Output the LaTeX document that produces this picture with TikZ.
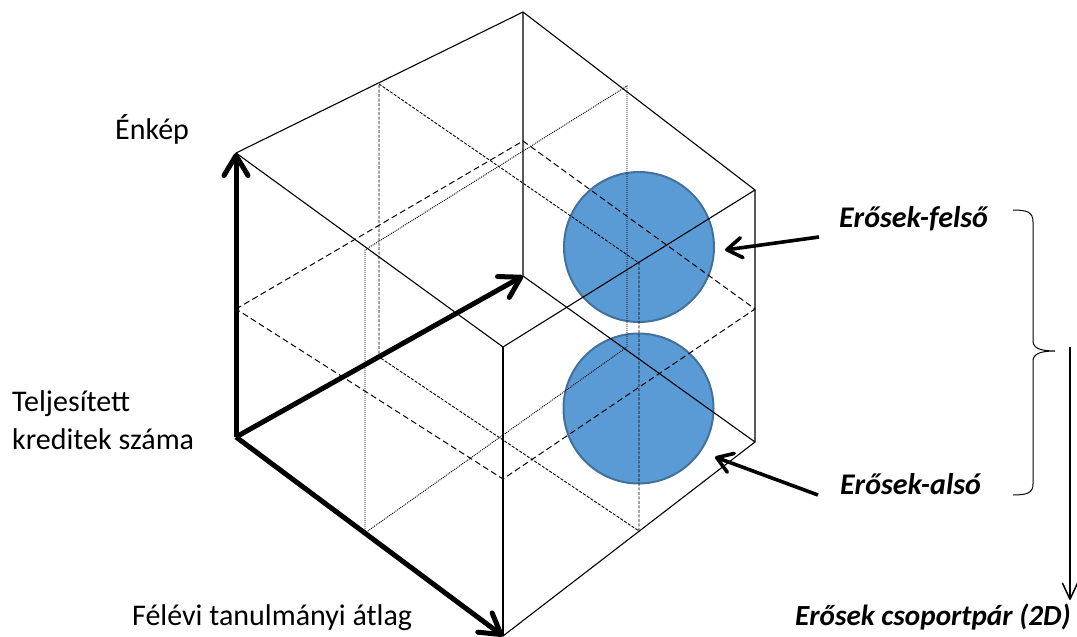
\documentclass[tikz,border=0pt]{standalone}
\usepackage{fontspec}
\setmainfont{Carlito}
\usetikzlibrary{arrows.meta}
\definecolor{ballfill}{RGB}{91,155,213}
\definecolor{balledge}{RGB}{65,113,156}
\begin{document}
\begin{tikzpicture}[x=1pt,y=-1pt,
  edge/.style={line width=1.1pt, line cap=round, line join=round},
  midz/.style={line width=1pt, dash pattern=on 6pt off 3.5pt},
  midy/.style={line width=0.9pt, dash pattern=on 3pt off 1.5pt},
  midx/.style={line width=0.9pt, dash pattern=on 1pt off 1pt},
  axis/.style={line width=5pt, -{Straight Barb[length=20pt,width=24pt,round]}},
  callout/.style={line width=3.6pt, -{Straight Barb[length=15pt,width=20pt,round]}},
  longarr/.style={line width=1.5pt, -{Straight Barb[length=16pt,width=15pt,round]}},
  brace/.style={line width=1pt},
  ball/.style={circle, minimum size=150pt, inner sep=0pt, fill=ballfill, draw=balledge, line width=2pt},
  lbl/.style={font=\fontsize{30}{38}\selectfont, inner sep=0pt},
  blbl/.style={inner sep=0pt, font=\fontsize{30}{38}\selectfont\bfseries\itshape}
]
\useasboundingbox (0,0) rectangle (1077,637);
% cube vertices
\coordinate (O)  at (236,437);
\coordinate (UL) at (236,153);
\coordinate (T)  at (523,12);
\coordinate (UR) at (755,190);
\coordinate (LR) at (755,442);
\coordinate (B)  at (503,636);
\coordinate (C)  at (503,347);
\coordinate (K)  at (523,276);
% mid plane z
\coordinate (P1) at (236,309);
\coordinate (P2) at (523,141);
\coordinate (P3) at (755,309);
\coordinate (P4) at (503,479);
% mid plane y
\coordinate (Q1) at (379,84);
\coordinate (Q2) at (639,263);
\coordinate (Q3) at (639,531);
\coordinate (Q4) at (379,357);
% mid plane x
\coordinate (R1) at (365,533);
\coordinate (R2) at (365,250);
\coordinate (R3) at (627,86);
\coordinate (R4) at (627,347);

% balls
\node[ball] (top) at (639,247) {};
\node[ball] (bot) at (638.5,408.5) {};

% mid planes
\draw[midz] (P1) -- (P2) -- (P3) -- (P4) -- cycle;
\draw[midy] (Q1) -- (Q2) -- (Q3) -- (Q4) -- cycle;
\draw[midx] (R1) -- (R2) -- (R3) -- (R4) -- cycle;

% cube edges
\draw[edge] (UL) -- (T) -- (UR) -- (LR) -- (B);
\draw[edge] (UL) -- (C) -- (UR);
\draw[edge] (C) -- (B);
\draw[edge] (T) -- (K) -- (LR);

% axes
\draw[axis] (O) -- (UL);
\draw[axis] (O) -- (K);
\draw[axis] (O) -- (B);

% labels
\node[lbl, anchor=base west] (enkep) at (115,139) {Énkép};
\node[lbl, anchor=north west, align=left] (kredit) at (12,390) {Teljesített\\kreditek száma};
\node[lbl, anchor=base west] (atlag) at (132,625) {Félévi tanulmányi átlag};
\node[blbl, anchor=base west] (felso) at (839,227) {Erősek-felső};
\node[blbl, anchor=base west] (also) at (840,494) {Erősek-alsó};
\node[inner sep=0pt, font=\fontsize{29.2}{36}\selectfont\bfseries\itshape, anchor=base west] (par) at (795,625) {Erősek csoportpár (2D)};

% callouts
\coordinate (fsStart) at (819,237);
\coordinate (fsTip) at (725,250);
\coordinate (alStart) at (818,495);
\coordinate (alTip) at (715,457);
\draw[callout] (fsStart) -- (fsTip);
\draw[callout] (alStart) -- (alTip);

% brace
\coordinate (brTop) at (1013,210);
\coordinate (brTip) at (1055,351);
\coordinate (brBot) at (1013,495);
\draw[brace] (brTop) .. controls (1027,210) and (1033,212) .. (1033,222)
  -- (1033,341) .. controls (1033,348) and (1040,351) .. (brTip)
  .. controls (1040,351) and (1033,354) .. (1033,361)
  -- (1033,484) .. controls (1033,493) and (1027,495) .. (brBot);

% long arrow
\coordinate (laStart) at (1070,347);
\coordinate (laEnd) at (1070,600);
\draw[longarr] (laStart) -- (laEnd);
\end{tikzpicture}
\end{document}
